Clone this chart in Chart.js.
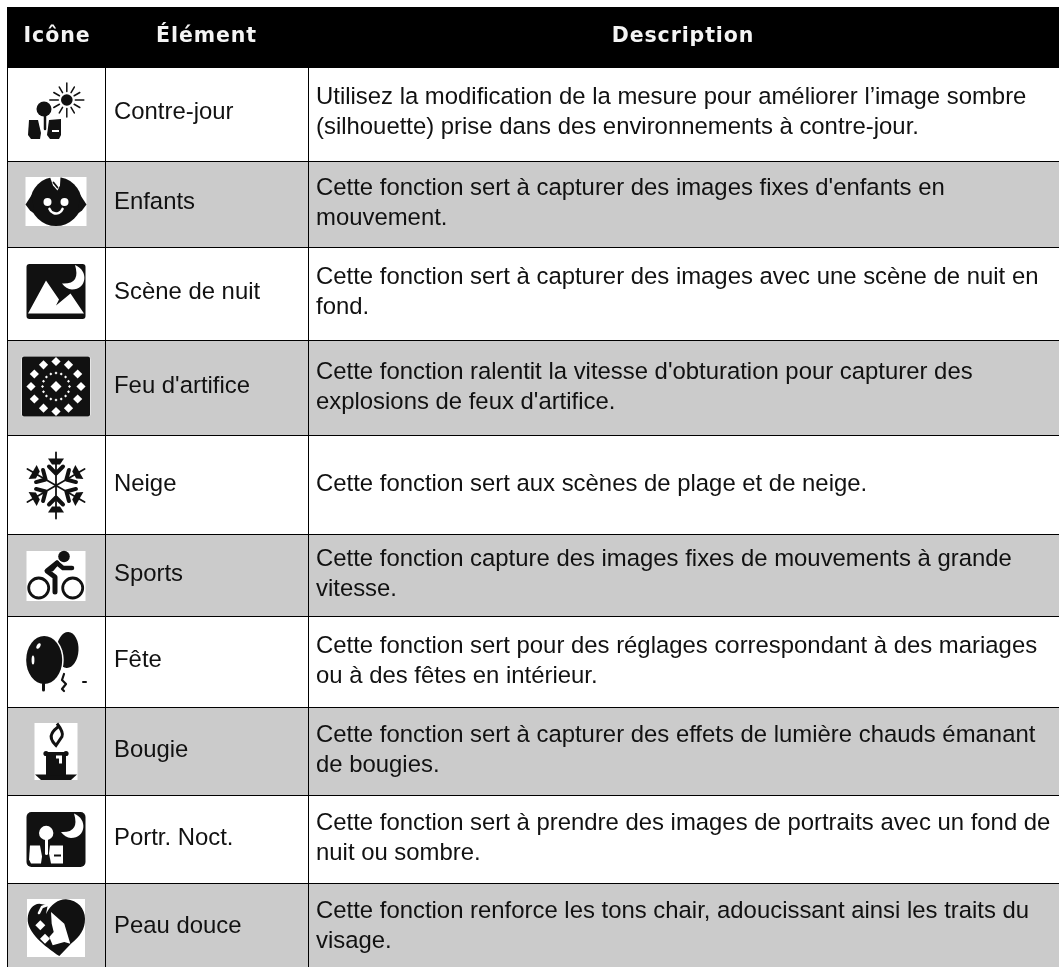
<!DOCTYPE html>
<html lang="fr">
<head>
<meta charset="utf-8">
<title>Modes de scène</title>
<script src="https://cdn.jsdelivr.net/npm/chart.js@4"></script>
<style>
  html, body { margin: 0; padding: 0; background: #fff; }
  canvas { display: block; }
</style>
</head>
<body>
<canvas id="chartTable" width="1059" height="967"></canvas>
<script>
const headers = ['Icône', 'Élément', 'Description'];
const elements = ['Contre-jour', 'Enfants', 'Scène de nuit', "Feu d'artifice", 'Neige', 'Sports', 'Fête', 'Bougie', 'Portr. Noct.', 'Peau douce'];
const descriptions = [
  ['Utilisez la modification de la mesure pour améliorer l’image sombre', '(silhouette) prise dans des environnements à contre-jour.'],
  ["Cette fonction sert à capturer des images fixes d'enfants en", 'mouvement.'],
  ['Cette fonction sert à capturer des images avec une scène de nuit en', 'fond.'],
  ["Cette fonction ralentit la vitesse d'obturation pour capturer des", "explosions de feux d'artifice."],
  ['Cette fonction sert aux scènes de plage et de neige.'],
  ['Cette fonction capture des images fixes de mouvements à grande', 'vitesse.'],
  ['Cette fonction sert pour des réglages correspondant à des mariages', 'ou à des fêtes en intérieur.'],
  ['Cette fonction sert à capturer des effets de lumière chauds émanant', 'de bougies.'],
  ['Cette fonction sert à prendre des images de portraits avec un fond de', 'nuit ou sombre.'],
  ['Cette fonction renforce les tons chair, adoucissant ainsi les traits du', 'visage.'],
];
const headerHeight = 60;
const rowHeights = [94, 86, 93, 95, 99, 82, 91, 88, 88, 84];
const columnEdges = [0, 98, 301];
const elementInset = [52, 48, 52, 53, 56, 47, 51, 50, 50, 50];
const descriptionInset = [37, 34, 37, 39, 56, 32, 37, 35, 35, 35];

const TEXT = '#111';
const GRAY = '#cbcbcb';

// limites des lignes, cumul des hauteurs
const rowEdges = [0, headerHeight];
rowHeights.forEach((h) => rowEdges.push(rowEdges[rowEdges.length - 1] + h));
const totalHeight = rowEdges[rowEdges.length - 1];

function blob(ctx, fn, color) {
  ctx.fillStyle = color || '#111';
  ctx.beginPath();
  fn();
  ctx.fill();
}

function poly(ctx, pts, color) {
  blob(ctx, () => {
    pts.forEach((p, i) => (i ? ctx.lineTo(p[0], p[1]) : ctx.moveTo(p[0], p[1])));
    ctx.closePath();
  }, color);
}

function circle(ctx, x, y, r, color) {
  blob(ctx, () => ctx.arc(x, y, r, 0, Math.PI * 2), color);
}

function stroke(ctx, pts, w, color) {
  ctx.strokeStyle = color || '#111';
  ctx.lineWidth = w;
  ctx.lineCap = 'round';
  ctx.lineJoin = 'round';
  ctx.beginPath();
  pts.forEach((p, i) => (i ? ctx.lineTo(p[0], p[1]) : ctx.moveTo(p[0], p[1])));
  ctx.stroke();
}

function plate(ctx, x, y, w, h, r, color) {
  blob(ctx, () => ctx.roundRect(x, y, w, h, r), color);
}

// croissant de lune, dessine autour de son coin haut
function crescent(ctx, dx, dy) {
  blob(ctx, () => {
    ctx.moveTo(19 + dx, -26.5 + dy);
    ctx.bezierCurveTo(33 + dx, -21 + dy, 31 + dx, -2 + dy, 16 + dx, -2 + dy);
    ctx.quadraticCurveTo(10 + dx, -2.5 + dy, 6 + dx, -8 + dy);
    ctx.quadraticCurveTo(25 + dx, -7 + dy, 19 + dx, -26.5 + dy);
    ctx.closePath();
  }, '#fff');
}

const icons = [
  function backlight(ctx) {
    ctx.translate(0, -3);
    circle(ctx, -12, -2, 7.5);
    stroke(ctx, [[-11, 4], [-11, 18]], 2.5);
    poly(ctx, [[-27, 9], [-18, 9], [-15, 22], [-16, 28], [-25, 28], [-28, 24]]);
    poly(ctx, [[-7, 9], [5, 8], [5, 24], [3, 28], [-6, 28], [-9, 24]]);
    poly(ctx, [[-4, 19], [3, 19], [3, 21], [-4, 21]], '#fff');
    circle(ctx, 10.8, -11, 5.8);
    for (let i = 0; i < 12; i++) {
      const a = (i * Math.PI) / 6;
      const long = i % 3 === 0 ? 17 : 15;
      stroke(ctx, [[10.8 + Math.cos(a) * 8.5, -11 + Math.sin(a) * 8.5], [10.8 + Math.cos(a) * long, -11 + Math.sin(a) * long]], 1.5);
    }
  },
  function kids(ctx) {
    ctx.translate(0, -2.5);
    plate(ctx, -30.5, -24.5, 61, 49, 0, '#fff');
    blob(ctx, () => ctx.ellipse(0, 0, 25.5, 24.5, 0, 0, Math.PI * 2));
    poly(ctx, [[-24, -7], [-30.5, 3], [-26, 9], [-22, 12]]);
    poly(ctx, [[24, -7], [30.5, 3], [26, 9], [22, 12]]);
    circle(ctx, -8.5, 0.5, 4, '#fff');
    circle(ctx, 8.5, 0.5, 4, '#fff');
    ctx.strokeStyle = '#fff';
    ctx.lineWidth = 2.6;
    ctx.lineCap = 'round';
    ctx.beginPath();
    ctx.arc(0, 5, 7, 0.35, Math.PI - 0.35);
    ctx.stroke();
    poly(ctx, [[-6, -24.5], [4.5, -24.5], [4, -16], [1.5, -11], [-3, -16]], '#fff');
    stroke(ctx, [[-2.5, -19], [1.5, -14]], 1.8);
  },
  function night(ctx) {
    ctx.translate(0, -2);
    plate(ctx, -29.5, -27.5, 59, 55, 3);
    poly(ctx, [[-28, 22], [-10, -11], [3, 8], [0, 14], [14.5, 2], [28, 22]], '#fff');
    crescent(ctx, 0, 0);
  },
  function fireworks(ctx) {
    ctx.translate(0, -1);
    plate(ctx, -34.5, -30.5, 69, 61, 3, '#fff');
    plate(ctx, -34, -30, 68, 60, 2);
    const diamond = (x, y, s) => poly(ctx, [[x, y - s], [x + s, y], [x, y + s], [x - s, y]], '#fff');
    diamond(0, 0, 5.5);
    for (let i = 0; i < 12; i++) {
      const a = (i * Math.PI) / 6;
      diamond(Math.sin(a) * 25, Math.cos(a) * 25, 4.6);
    }
    for (let i = 0; i < 16; i++) {
      const a = (i * Math.PI) / 8;
      diamond(Math.sin(a) * 13.5, Math.cos(a) * 13.5, 1.5);
    }
  },
  function snow(ctx) {
    ctx.translate(0, 1);
    for (let i = 0; i < 6; i++) {
      ctx.save();
      ctx.rotate((i * Math.PI) / 3);
      stroke(ctx, [[0, 0], [0, -33]], 1.8);
      poly(ctx, [[-8, -27], [8, -27], [4, -21], [-4, -21]]);
      stroke(ctx, [[-7, -19], [0, -12], [7, -19]], 4);
      ctx.restore();
    }
  },
  function sports(ctx) {
    ctx.translate(0, 1);
    plate(ctx, -29.5, -25, 59, 50, 0, '#fff');
    ctx.strokeStyle = '#111';
    ctx.lineWidth = 2.8;
    [-17.3, 16.7].forEach((x) => {
      ctx.beginPath();
      ctx.arc(x, 12, 10, 0, Math.PI * 2);
      ctx.stroke();
    });
    circle(ctx, 8, -19.5, 5.8);
    stroke(ctx, [[-4, -7], [1, -13], [7, -8], [16, -8]], 4.5);
    stroke(ctx, [[1, -13], [-9, -5], [-1, 1], [-1, 16]], 5);
  },
  function party(ctx) {
    ctx.translate(0, 0.5);
    blob(ctx, () => ctx.ellipse(11.5, -12, 11, 18, 0.05, 0, Math.PI * 2));
    blob(ctx, () => ctx.ellipse(-11.8, -2, 19.5, 25.5, 0, 0, Math.PI * 2), '#fff');
    blob(ctx, () => ctx.ellipse(-11.8, -2, 18, 24, 0, 0, Math.PI * 2));
    blob(ctx, () => ctx.ellipse(-17.5, -16, 1.8, 3, 0.5, 0, Math.PI * 2), '#fff');
    blob(ctx, () => ctx.ellipse(-23, -2, 1.4, 4.5, 0, 0, Math.PI * 2), '#fff');
    stroke(ctx, [[-12.5, 22], [-12.5, 28]], 3);
    stroke(ctx, [[8, 12], [6, 18], [10, 22], [6, 27], [8, 29]], 2.2);
    stroke(ctx, [[27, 20], [30, 20]], 2);
  },
  function candle(ctx) {
    ctx.translate(0, 0.5);
    plate(ctx, -21.5, -28.5, 43, 57, 0, '#fff');
    poly(ctx, [[-21, 23], [21, 23], [15, 28.5], [-15, 28.5]]);
    plate(ctx, -10, 2, 20, 22, 0);
    circle(ctx, -10, 2, 2.6);
    circle(ctx, 10, 2, 2.6);
    plate(ctx, -10, 0.5, 20, 3);
    poly(ctx, [[0, 4], [6, 4], [6, 12], [3, 12], [3, 7], [0, 7]], '#fff');
    ctx.strokeStyle = '#111';
    ctx.lineWidth = 3;
    ctx.beginPath();
    ctx.moveTo(1, -28);
    ctx.quadraticCurveTo(8, -19, 6, -15);
    ctx.quadraticCurveTo(2, -9, 0, -6);
    ctx.quadraticCurveTo(-7, -13, -4, -18);
    ctx.quadraticCurveTo(-2, -22, 4, -26);
    ctx.stroke();
  },
  function nightPortrait(ctx) {
    ctx.translate(0, 0.5);
    plate(ctx, -29.5, -27.5, 59, 55, 5);
    circle(ctx, -9.8, -6.5, 7.2, '#fff');
    stroke(ctx, [[-9.5, -1], [-9.5, 14]], 3, '#fff');
    poly(ctx, [[-26, 6], [-16, 6], [-14, 17], [-15, 24], [-25, 24], [-27, 20]], '#fff');
    poly(ctx, [[-6, 6], [7, 6], [7, 24], [-5, 24], [-7, 14]], '#fff');
    poly(ctx, [[-2, 15], [5, 15], [5, 17], [-2, 17]], '#111');
    crescent(ctx, -1, 0.5);
  },
  function softSkin(ctx) {
    ctx.translate(0, 3);
    plate(ctx, -29, -29, 58, 58, 0, '#fff');
    blob(ctx, () => {
      ctx.moveTo(3.3, 28);
      ctx.bezierCurveTo(-12, 18, -29, 4, -28.3, -9.3);
      ctx.bezierCurveTo(-28, -18, -23, -24, -16.7, -24.3);
      ctx.lineTo(-8.3, -22.7);
      ctx.lineTo(-10, -14);
      ctx.bezierCurveTo(-5, -24, 3, -29, 10, -28.7);
      ctx.bezierCurveTo(22, -28, 29, -19, 29, -9.3);
      ctx.bezierCurveTo(29, 2, 24, 8, 15, 15.7);
      ctx.lineTo(3.3, 28);
      ctx.closePath();
    });
    stroke(ctx, [[-8.5, -23], [-14, -21], [-17, -15]], 2.6, '#fff');
    poly(ctx, [[-5, -16], [8.3, -4.3], [14.3, 15.7], [8.3, 14], [-3.3, 17.3], [-6.7, 9], [-2.3, 4], [-4.3, -4.3]], '#fff');
    [[-15.7, -2.7], [-11, 10.7]].forEach((d) => {
      poly(ctx, [[d[0], d[1] - 5], [d[0] + 5, d[1]], [d[0], d[1] + 5], [d[0] - 5, d[1]]], '#fff');
    });
  },
];

const tableText = {
  id: 'tableText',
  afterDraw(chart) {
    const { ctx } = chart;
    const xCol = chart.scales.xCol;
    const y = chart.scales.y;
    const colX = (i) => xCol.getPixelForValue(columnEdges[i]);

    ctx.save();
    ctx.textBaseline = 'alphabetic';

    // en-tete
    ctx.fillStyle = '#f4f4f4';
    ctx.font = 'bold 20.5px "DejaVu Sans"';
    ctx.letterSpacing = '0.9px';
    ctx.textAlign = 'center';
    const headBase = y.getPixelForValue(35);
    ctx.fillText(headers[0], 57, headBase);
    ctx.fillText(headers[1], 206.5, headBase);
    ctx.fillText(headers[2], 683, headBase);
    ctx.letterSpacing = '0px';

    // lignes
    ctx.fillStyle = TEXT;
    ctx.textAlign = 'left';
    ctx.font = '23.9px "Liberation Sans"';
    elements.forEach((name, i) => {
      const top = rowEdges[i + 1];
      ctx.fillText(name, colX(1) + 9, y.getPixelForValue(top + elementInset[i]));
      descriptions[i].forEach((line, j) => {
        ctx.fillText(line, colX(2) + 8, y.getPixelForValue(top + descriptionInset[i]) + j * 29.5);
      });
    });
    ctx.restore();

    icons.forEach((draw, i) => {
      const mid = rowEdges[i + 1] + rowHeights[i] / 2;
      ctx.save();
      ctx.translate((colX(0) + colX(1)) / 2, y.getPixelForValue(mid));
      draw(ctx);
      ctx.restore();
    });
  },
};

const rowDatasets = [{ label: 'header', data: [headerHeight], backgroundColor: '#000' }].concat(
  rowHeights.map((h, i) => ({
    label: elements[i],
    data: [h],
    backgroundColor: i % 2 ? GRAY : '#fff',
  }))
);

new Chart(document.getElementById('chartTable'), {
  type: 'bar',
  data: { labels: ['table'], datasets: rowDatasets },
  plugins: [tableText],
  options: {
    responsive: false,
    animation: false,
    layout: { padding: { left: 7, top: 7, right: 0, bottom: 0 } },
    barPercentage: 1,
    categoryPercentage: 1,
    plugins: { legend: { display: false }, tooltip: { enabled: false } },
    scales: {
      x: { stacked: true, display: false },
      xCol: {
        type: 'linear',
        position: 'top',
        min: 0,
        max: 1052,
        offset: false,
        afterBuildTicks(axis) {
          axis.ticks = columnEdges.map((value) => ({ value }));
        },
        border: { display: false },
        ticks: { display: false, autoSkip: false },
        grid: { color: '#000', lineWidth: 1, drawTicks: false, offset: false, z: 1 },
      },
      y: {
        stacked: true,
        reverse: true,
        min: 0,
        max: totalHeight,
        afterBuildTicks(axis) {
          axis.ticks = rowEdges.slice(0, -1).map((value) => ({ value }));
        },
        border: { display: false },
        ticks: { display: false, autoSkip: false },
        grid: { color: '#000', lineWidth: 1, drawTicks: false, z: 1 },
      },
    },
  },
});
</script>
</body>
</html>
